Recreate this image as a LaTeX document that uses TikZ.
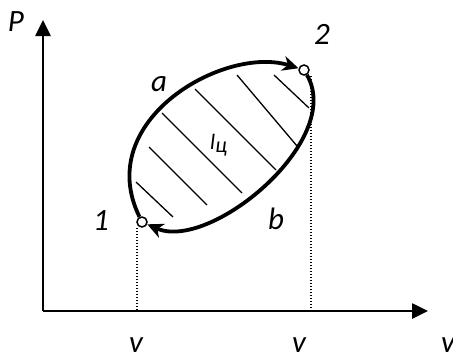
\documentclass[tikz,border=0pt]{standalone}
\usepackage{fontspec}
\setmainfont{Carlito}
\usetikzlibrary{arrows.meta, positioning}

\begin{document}
\begin{tikzpicture}[x=1pt, y=-1pt,
    axisline/.style={line width=2.6pt, -{Triangle[length=16pt, width=15pt]}},
    cycleline/.style={line width=3.8pt, -{Stealth[length=16pt, width=15pt, inset=5pt]}},
    statept/.style={circle, draw, line width=1.5pt, fill=white,
                    minimum size=10pt, inner sep=0pt},
    lbl/.style={font=\fontsize{31}{35}\selectfont\itshape, inner sep=0pt},
    guide/.style={line width=1.5pt, dash pattern=on 1.4pt off 1.6pt},
    hatch/.style={line width=1.3pt}
]
\useasboundingbox (0,0) rectangle (453,356);

% axes
\coordinate (O) at (43,311);
\coordinate (ytip) at (43,20);
\coordinate (xtip) at (428,311);
\draw[axisline] (O) -- (ytip);
\draw[axisline] (O) -- (xtip);

% states 1 and 2
\node[statept] (p1) at (142,222) {};
\node[statept] (p2) at (304,70) {};

% hatching of the cycle area
\foreach \a/\b in {{(136,182)}/{(173,217)}, {(149,147)}/{(207,205)},
                   {(162,113)}/{(242,193)}, {(195,89)}/{(276,170)},
                   {(237,75)}/{(297,146)}, {(274,75)}/{(309,108)}}
  \draw[hatch] \a -- \b;

% the cycle 1-a-2-b-1
\draw[cycleline] (p1) .. controls (92,120) and (225,45) .. (p2);
\draw[cycleline] (p2) .. controls (345,140) and (210,252) .. (p1);

% dotted guides down to the v axis
\coordinate (d1) at (137,311);
\coordinate (d2) at (311,311);
\draw[guide] (p1.south -| d1) -- (d1);
\draw[guide] (p2.south -| d2) -- (d2);

% labels
\node[lbl] (labP) at (16,22) {P};
\node[lbl] (laba) at (159,84) {a};
\node[lbl] (labb) at (276,219) {b};
\node[lbl] (lab1) at (101,221) {1};
\node[lbl] (lab2) at (322,34) {2};
\node[lbl, font=\fontsize{22}{26}\selectfont\itshape, anchor=base west] (labl)
  at (210,149) {l\raisebox{-3pt}{ц}};
\node[lbl] (labv1) at (136,345) {v};
\node[lbl] (labv2) at (299,345) {v};
\node[lbl] (labv) at (448,345) {v};

\end{tikzpicture}
\end{document}
